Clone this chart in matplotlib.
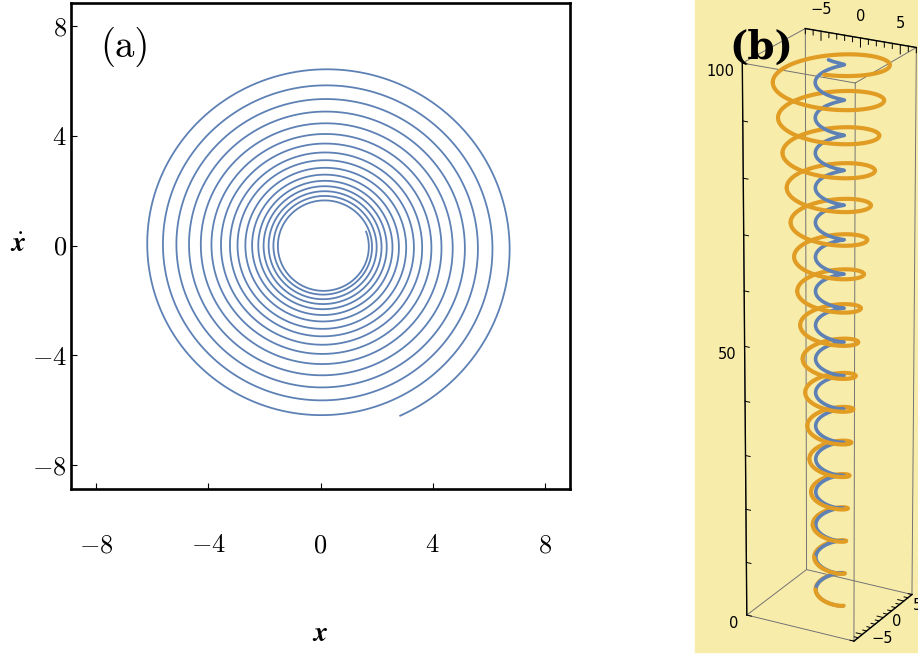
import numpy as np
import matplotlib.pyplot as plt
from matplotlib.patches import Rectangle
from mpl_toolkits.mplot3d import proj3d

plt.rcParams['mathtext.fontset'] = 'cm'
plt.rcParams['font.family'] = 'serif'
plt.rcParams['font.serif'] = ['cmr10']
plt.rcParams['axes.formatter.use_mathtext'] = True

# radius of the orbit each time it crosses the negative x axis, inner to outer
r_left = [1.64, 1.80, 1.97, 2.15, 2.34, 2.56, 2.80, 3.08, 3.35, 3.67,
          4.01, 4.39, 4.81, 5.26, 5.74, 6.30]
r_start = 1.60          # radius at t = 0
r_stop = 6.75           # radius at t = t_max
phi_start = 19.7        # polar angle of first point (deg)
phi_stop = -66.2        # polar angle of last point (deg)
center = (0.12, -0.03)
r_small = 1.6           # bounded orbit in panel (b)
t_max = 100

ticks_a = [-8, -4, 0, 4, 8]
ticks_b_xy = [-5, 0, 5]
ticks_b_z = [0, 50, 100]

blue = '#5E81B5'
orange = '#E19C24'
yellow = '#F8ECAB'

# build the orbit: angle goes clockwise, radius follows the crossing radii
s0 = (np.deg2rad(phi_start) + np.pi) / (2 * np.pi)
s_end = s0 + len(r_left) - 1 + (180 - phi_stop) / 360
s_knots = np.r_[0, s0 + np.arange(len(r_left)), s_end]
r_knots = np.r_[r_start, r_left, r_stop]
s = np.linspace(0, s_end, 6000)
r = np.exp(np.interp(s, s_knots, np.log(r_knots)))
phi = np.deg2rad(phi_start) - 2 * np.pi * s
x = center[0] + r * np.cos(phi)
v = center[1] + r * np.sin(phi)
t = t_max * s / s_end

fig = plt.figure(figsize=(9.18, 6.55), dpi=100)

# ---- (a) phase plane ----
ax = fig.add_axes([71 / 918, 1 - 489 / 655, 499 / 918, 486 / 655])
ax.plot(x, v, color=blue, lw=1.3)
ax.set_xlim(-8.9, 8.9)
ax.set_ylim(-8.88, 8.85)
ax.set_xticks(ticks_a)
ax.set_yticks(ticks_a)
ax.tick_params(direction='in', length=4, width=0.8, labelsize=19,
               top=False, right=False)
ax.tick_params(axis='x', pad=32)
ax.tick_params(axis='y', pad=3)
for sp in ax.spines.values():
    sp.set_linewidth(1.9)
ax.set_xlabel(r'$\mathbfit{x}$', fontsize=20, math_fontfamily='stix')
ax.set_ylabel(r'$\dot{\mathbfit{x}}$', fontsize=20, math_fontfamily='stix',
              rotation=0, ha='center', va='center')
ax.xaxis.set_label_coords(0.5, -0.27)
ax.yaxis.set_label_coords(-0.106, 0.502)
ax.text(0.058, 0.91, '(a)', transform=ax.transAxes, fontsize=28,
        va='center', ha='left')

# ---- (b) orbits against time ----
fig.patches.append(Rectangle((695 / 918, 3 / 655), 223 / 918, 652 / 655,
                             transform=fig.transFigure, color=yellow,
                             zorder=-1))
az = -61
ax3 = fig.add_axes([(821 - 326) / 918, -17 / 655, 652 / 918, 652 / 655],
                   projection='3d')
ax3.patch.set_visible(False)
ax3.set_proj_type('persp', focal_length=1.2)
ax3.view_init(elev=22, azim=az)
ax3.set_box_aspect((1, 1, 4.75), zoom=0.92)
lim = 7
ax3.set_xlim(-lim, lim)
ax3.set_ylim(-lim, lim)
ax3.set_zlim(0, t_max)
ax3.set_axis_off()
ax3.computed_zorder = False

# box edges
c = [-lim, lim]
edge = dict(color='0.45', lw=0.7, zorder=1)
for a in c:
    for b in c:
        ax3.plot([a, a], [b, b], [0, t_max], **edge)
    for zz in [0, t_max]:
        ax3.plot([a, a], c, [zz, zz], **edge)
        ax3.plot(c, [a, a], [zz, zz], **edge)
ax3.plot([-lim, -lim], [-lim, -lim], [0, t_max], color='k', lw=1.0, zorder=2)
ax3.plot(c, [lim, lim], [t_max, t_max], color='k', lw=1.0, zorder=2)
ax3.plot([lim, lim], c, [0, 0], color='k', lw=1.0, zorder=2)

# tick marks
for zt in range(0, t_max + 1, 10):
    ax3.plot([-lim, -lim + 0.6], [-lim, -lim], [zt, zt], color='k', lw=0.7)
for xt in range(-lim, lim + 1):
    ln = 1.6 if xt % 5 == 0 else 0.9
    ax3.plot([xt, xt], [lim, lim], [t_max, t_max - ln], color='k', lw=0.7)
    ax3.plot([lim, lim - 0.5 - 0.3 * (xt % 5 == 0)], [xt, xt], [0, 0],
             color='k', lw=0.7)

# orange: split into the half behind and in front of the small orbit
ox = r * np.cos(phi)
oy = r * np.sin(phi)
view = np.array([np.cos(np.deg2rad(az)), np.sin(np.deg2rad(az))])
front = ox * view[0] + oy * view[1] > 0
ax3.plot(np.where(front, np.nan, ox), np.where(front, np.nan, oy), t,
         color=orange, lw=3.0, zorder=3, solid_capstyle='round')
ax3.plot(r_small * np.cos(phi), r_small * np.sin(phi), t,
         color=blue, lw=2.6, zorder=4, solid_capstyle='round')
ax3.plot(np.where(front, ox, np.nan), np.where(front, oy, np.nan), t,
         color=orange, lw=3.0, zorder=5, solid_capstyle='round')

# tick labels: project the 3d anchor points to the figure
fig.canvas.draw()
W, H = fig.bbox.width, fig.bbox.height


def label3d(px, py, pz, s, dx, dy, **kw):
    u, w, _ = proj3d.proj_transform(px, py, pz, ax3.get_proj())
    X, Y = ax3.transData.transform((u, w))
    fig.text((X + dx) / W, (Y + dy) / H, s, family='DejaVu Sans',
             fontsize=10.5, **kw)


for zt in ticks_b_z:
    label3d(-lim, -lim, zt, str(zt), -8, -8, ha='right', va='center')
for xt in ticks_b_xy:
    lab = str(xt).replace('-', '\u2212')
    label3d(xt, lim, t_max, lab, 0, 14, ha='center', va='bottom')
    label3d(lim, xt, 0, lab, 9, -4, ha='left', va='center')

fig.text(761 / 918, 1 - 48 / 655, '(b)', family='DejaVu Serif',
         weight='bold', fontsize=28, ha='center', va='center')

fig.savefig('out.png', dpi=100)
